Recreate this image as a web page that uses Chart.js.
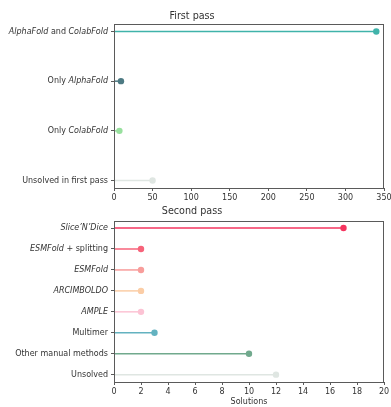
<!DOCTYPE html>
<html><head><meta charset="utf-8">
<script src="https://cdn.jsdelivr.net/npm/chart.js@4/dist/chart.umd.min.js"></script>
<style>
html,body{margin:0;padding:0;background:#fff;width:391px;height:407px;overflow:hidden;position:relative}
canvas{position:absolute;left:0}
#c1{top:0}
#c2{top:198px}
</style></head><body>
<canvas id="c1" width="391" height="207"></canvas>
<canvas id="c2" width="391" height="209"></canvas>
<script>
// ---- data ----
const firstTitle = "First pass";
const firstLabels = [
  [["AlphaFold", true], [" and ", false], ["ColabFold", true]],
  [["Only ", false], ["AlphaFold", true]],
  [["Only ", false], ["ColabFold", true]],
  [["Unsolved in first pass", false]]
];
const firstValues = [340, 9, 7, 50];
const firstColors = ["#40b3aa", "#4d7a83", "#98e09e", "#dfe6e2"];
const firstTicks = [0, 50, 100, 150, 200, 250, 300, 350];

const secondTitle = "Second pass";
const secondLabels = [
  [["Slice\u2019N\u2019Dice", true]],
  [["ESMFold", true], [" + splitting", false]],
  [["ESMFold", true]],
  [["ARCIMBOLDO", true]],
  [["AMPLE", true]],
  [["Multimer", false]],
  [["Other manual methods", false]],
  [["Unsolved", false]]
];
const secondValues = [17, 2, 2, 2, 2, 3, 10, 12];
const secondColors = ["#f5355f", "#f7637a", "#f89d9b", "#fbcda6", "#fcc3d4", "#63b2c0", "#71a98d", "#dfe6e2"];
const secondTicks = [0, 2, 4, 6, 8, 10, 12, 14, 16, 18, 20];
const xAxisTitle = "Solutions";

// ---- drawing ----
const FONT = "'DejaVu Sans', sans-serif";
const TXT = "#333";
const SPINE = "#5a5a5a";

const framePlugin = {
  id: 'frame',
  afterDraw(chart, args, opts) {
    const ctx = chart.ctx, a = chart.chartArea;
    ctx.save();
    ctx.strokeStyle = SPINE; ctx.lineWidth = 1;
    ctx.strokeRect(Math.round(a.left) + 0.5, Math.round(a.top) + 0.5,
                   Math.round(a.right - a.left) - 1, Math.round(a.bottom - a.top));
    // y labels with mixed styles
    const ys = chart.scales.y;
    const labels = opts.labels;
    ctx.fillStyle = TXT;
    ctx.textBaseline = 'middle';
    ctx.textAlign = 'left';
    const xEnd = a.left - 6;
    labels.forEach((segs, i) => {
      const y = ys.getPixelForValue(i);
      let total = 0;
      const widths = segs.map(s => {
        ctx.font = (s[1] ? 'italic ' : '') + '8px ' + FONT;
        const w = ctx.measureText(s[0]).width; total += w; return w;
      });
      let x = xEnd - total;
      segs.forEach((s, k) => {
        ctx.font = (s[1] ? 'italic ' : '') + '8px ' + FONT;
        ctx.fillText(s[0], x, y);
        x += widths[k];
      });
    });
    ctx.restore();
  }
};

function makeChart(id, title, labels, values, colors, ticks, xHeight, titlePad, xTitle) {
  const datasets = values.map((v, i) => ({
    data: [{x: 0, y: i}, {x: v, y: i}],
    showLine: true,
    borderColor: colors[i],
    backgroundColor: colors[i],
    borderWidth: 1.5,
    pointRadius: [0, 3.2],
    pointHoverRadius: [0, 3.2],
    pointBorderWidth: 0,
    clip: false
  }));
  const n = labels.length;
  const margin = (n - 1) * 0.05;
  return new Chart(document.getElementById(id), {
    type: 'scatter',
    data: { datasets },
    plugins: [framePlugin],
    options: {
      responsive: false,
      animation: false,
      devicePixelRatio: 1,
      layout: { padding: { left: 0, right: 7, top: 0, bottom: 0 } },
      plugins: {
        legend: { display: false },
        tooltip: { enabled: false },
        title: { display: true, text: title, color: TXT,
                 font: { family: FONT, size: 9.6, weight: 'normal' },
                 padding: titlePad },
        frame: { labels }
      },
      scales: {
        x: {
          type: 'linear', min: ticks[0], max: ticks[ticks.length - 1],
          afterBuildTicks: s => { s.ticks = ticks.map(v => ({ value: v })); },
          afterFit: s => { s.height = xHeight; s.paddingLeft = 0; s.paddingRight = 0; },
          border: { display: false },
          grid: { drawOnChartArea: false, drawTicks: true, tickLength: 3, color: SPINE, tickColor: SPINE },
          ticks: { color: TXT, font: { family: FONT, size: 8 }, padding: 2, maxRotation: 0, autoSkip: false },
          title: xTitle ? { display: true, text: xTitle, color: TXT, font: { family: FONT, size: 8 }, padding: { top: 1, bottom: 0 } } : { display: false }
        },
        y: {
          type: 'linear', reverse: true, min: -margin, max: (n - 1) + margin,
          afterBuildTicks: s => { s.ticks = labels.map((_, i) => ({ value: i })); },
          afterFit: s => { s.width = 114; s.paddingTop = 0; s.paddingBottom = 0; },
          border: { display: false },
          grid: { drawOnChartArea: false, drawTicks: true, tickLength: 3, color: SPINE, tickColor: SPINE },
          ticks: { callback: () => '', font: { family: FONT, size: 8 } }
        }
      }
    }
  });
}

makeChart('c1', firstTitle, firstLabels, firstValues, firstColors, firstTicks, 19, { top: 11, bottom: 1.5 }, null);
makeChart('c2', secondTitle, secondLabels, secondValues, secondColors, secondTicks, 25, { top: 8.2, bottom: 3 }, xAxisTitle);
</script>
</body></html>
